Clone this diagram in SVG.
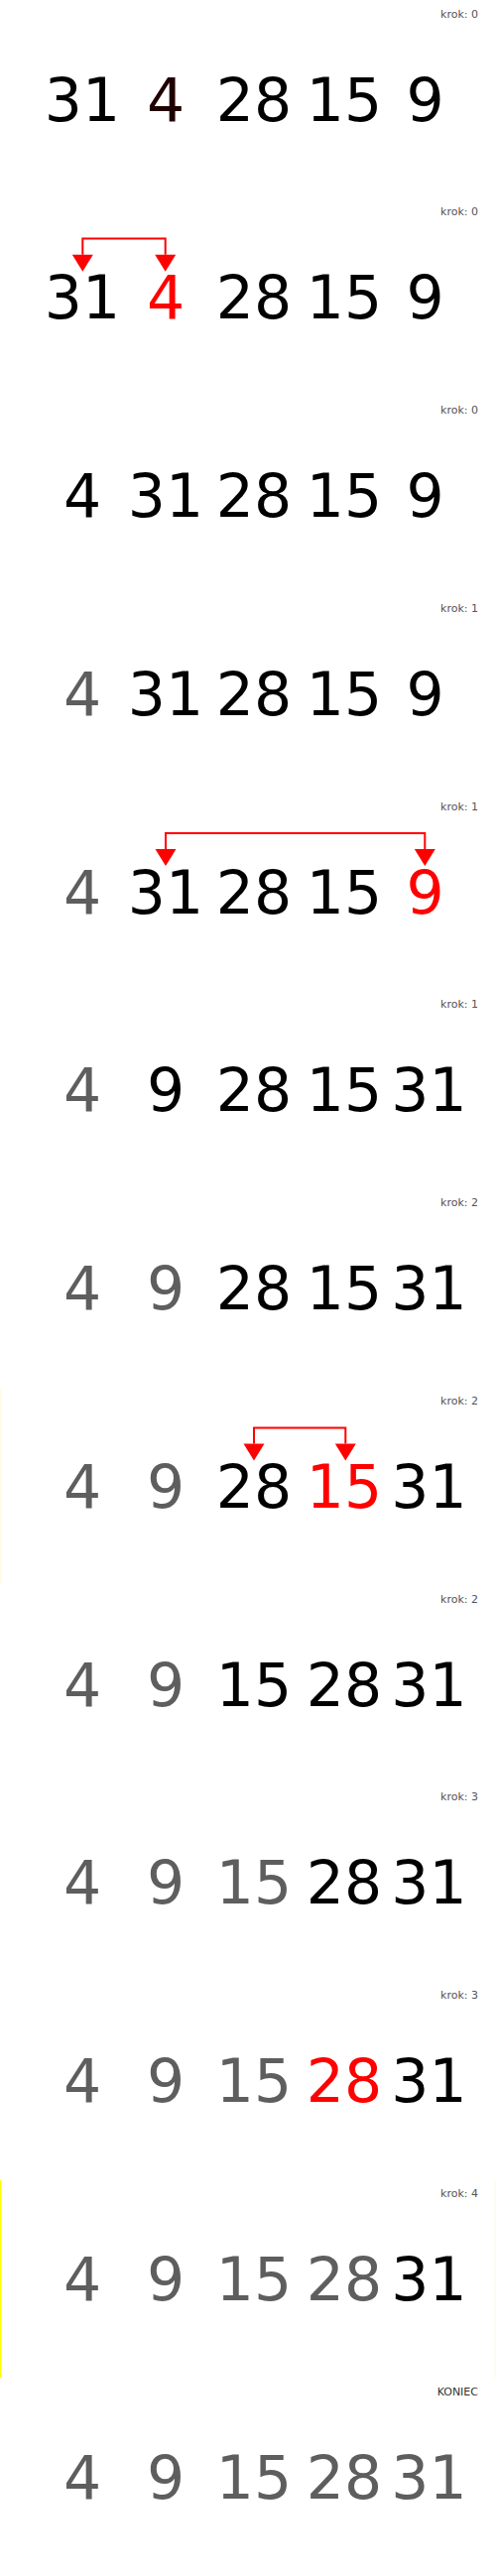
<svg xmlns="http://www.w3.org/2000/svg" width="500" height="2597" viewBox="0 0 500 2597">
<style>
.n{font-family:"DejaVu Sans",sans-serif;font-size:60px;text-anchor:middle;fill:#000}
.g{fill:#5e5e5e}
.r{fill:#ff0000}
.dr{fill:#200000}
.lb{font-family:"DejaVu Sans",sans-serif;font-size:11px;text-anchor:end;fill:#555}
.end{fill:#333}
.ar{fill:none;stroke:#ff0000;stroke-width:2}
</style>
<defs>
<marker id="ah" markerWidth="21" markerHeight="17" refX="10.5" refY="0" viewBox="0 0 21 17" markerUnits="userSpaceOnUse" orient="auto-start-reverse">
<path d="M0,0 L21,0 L10.5,17 Z" fill="#ff0000"/>
</marker>
<path id="tri" d="M-10.5,0 L10.5,0 L0,17 Z" fill="#ff0000"/>
</defs>
<rect width="500" height="2597" fill="#fff"/>
<rect x="0" y="1399" width="1.5" height="199" fill="#fffbe6"/>
<rect x="0" y="2198" width="1.5" height="199" fill="#ffff00"/>
<rect x="498.5" y="2198" width="1.5" height="199" fill="#fffbe6"/>

<g id="p0" transform="translate(0,0)">
<text class="lb" x="482" y="17.5">krok: 0</text>
<text class="n" x="83" y="121.5">31</text><text class="n dr" x="167" y="121.5">4</text><text class="n" x="256" y="121.5">28</text><text class="n" x="347" y="121.5">15</text><text class="n" x="428.5" y="121.5">9</text>
</g>
<g id="p1" transform="translate(0,199.77)">
<text class="lb" x="482" y="17.5">krok: 0</text>
<text class="n" x="83" y="121.5">31</text><text class="n r" x="167" y="121.5">4</text><text class="n" x="256" y="121.5">28</text><text class="n" x="347" y="121.5">15</text><text class="n" x="428.5" y="121.5">9</text>
</g>
<g id="p2" transform="translate(0,399.54)">
<text class="lb" x="482" y="17.5">krok: 0</text>
<text class="n" x="83" y="121.5">4</text><text class="n" x="167" y="121.5">31</text><text class="n" x="256" y="121.5">28</text><text class="n" x="347" y="121.5">15</text><text class="n" x="428.5" y="121.5">9</text>
</g>
<g id="p3" transform="translate(0,599.31)">
<text class="lb" x="482" y="17.5">krok: 1</text>
<text class="n g" x="83" y="121.5">4</text><text class="n" x="167" y="121.5">31</text><text class="n" x="256" y="121.5">28</text><text class="n" x="347" y="121.5">15</text><text class="n" x="428.5" y="121.5">9</text>
</g>
<g id="p4" transform="translate(0,799.08)">
<text class="lb" x="482" y="17.5">krok: 1</text>
<text class="n g" x="83" y="121.5">4</text><text class="n" x="167" y="121.5">31</text><text class="n" x="256" y="121.5">28</text><text class="n" x="347" y="121.5">15</text><text class="n r" x="428.5" y="121.5">9</text>
</g>
<g id="p5" transform="translate(0,998.85)">
<text class="lb" x="482" y="17.5">krok: 1</text>
<text class="n g" x="83" y="121.5">4</text><text class="n" x="167" y="121.5">9</text><text class="n" x="256" y="121.5">28</text><text class="n" x="347" y="121.5">15</text><text class="n" x="432.5" y="121.5">31</text>
</g>
<g id="p6" transform="translate(0,1198.62)">
<text class="lb" x="482" y="17.5">krok: 2</text>
<text class="n g" x="83" y="121.5">4</text><text class="n g" x="167" y="121.5">9</text><text class="n" x="256" y="121.5">28</text><text class="n" x="347" y="121.5">15</text><text class="n" x="432.5" y="121.5">31</text>
</g>
<g id="p7" transform="translate(0,1398.39)">
<text class="lb" x="482" y="17.5">krok: 2</text>
<text class="n g" x="83" y="121.5">4</text><text class="n g" x="167" y="121.5">9</text><text class="n" x="256" y="121.5">28</text><text class="n r" x="347" y="121.5">15</text><text class="n" x="432.5" y="121.5">31</text>
</g>
<g id="p8" transform="translate(0,1598.16)">
<text class="lb" x="482" y="17.5">krok: 2</text>
<text class="n g" x="83" y="121.5">4</text><text class="n g" x="167" y="121.5">9</text><text class="n" x="256" y="121.5">15</text><text class="n" x="347" y="121.5">28</text><text class="n" x="432.5" y="121.5">31</text>
</g>
<g id="p9" transform="translate(0,1797.93)">
<text class="lb" x="482" y="17.5">krok: 3</text>
<text class="n g" x="83" y="121.5">4</text><text class="n g" x="167" y="121.5">9</text><text class="n g" x="256" y="121.5">15</text><text class="n" x="347" y="121.5">28</text><text class="n" x="432.5" y="121.5">31</text>
</g>
<g id="p10" transform="translate(0,1997.7)">
<text class="lb" x="482" y="17.5">krok: 3</text>
<text class="n g" x="83" y="121.5">4</text><text class="n g" x="167" y="121.5">9</text><text class="n g" x="256" y="121.5">15</text><text class="n r" x="347" y="121.5">28</text><text class="n" x="432.5" y="121.5">31</text>
</g>
<g id="p11" transform="translate(0,2197.47)">
<text class="lb" x="482" y="17.5">krok: 4</text>
<text class="n g" x="83" y="121.5">4</text><text class="n g" x="167" y="121.5">9</text><text class="n g" x="256" y="121.5">15</text><text class="n g" x="347" y="121.5">28</text><text class="n" x="432.5" y="121.5">31</text>
</g>
<g id="p12" transform="translate(0,2397.24)">
<text class="lb end" x="482" y="17.5">KONIEC</text>
<text class="n g" x="83" y="121.5">4</text><text class="n g" x="167" y="121.5">9</text><text class="n g" x="256" y="121.5">15</text><text class="n g" x="347" y="121.5">28</text><text class="n g" x="432.5" y="121.5">31</text>
</g>

<g id="connectors">
<g transform="translate(0,199.77)">
<path class="ar" d="M83.3,57 V40.7 H166.7 V57"/>
<use href="#tri" x="83.3" y="57"/><use href="#tri" x="166.7" y="57"/>
</g>
<g transform="translate(0,799.08)">
<path class="ar" d="M167,57 V41 H428.3 V57"/>
<use href="#tri" x="167" y="57"/><use href="#tri" x="428.3" y="57"/>
</g>
<g transform="translate(0,1398.39)">
<path class="ar" d="M256,57 V41 H348.3 V57"/>
<use href="#tri" x="256" y="57"/><use href="#tri" x="348.3" y="57"/>
</g>
</g>
</svg>
